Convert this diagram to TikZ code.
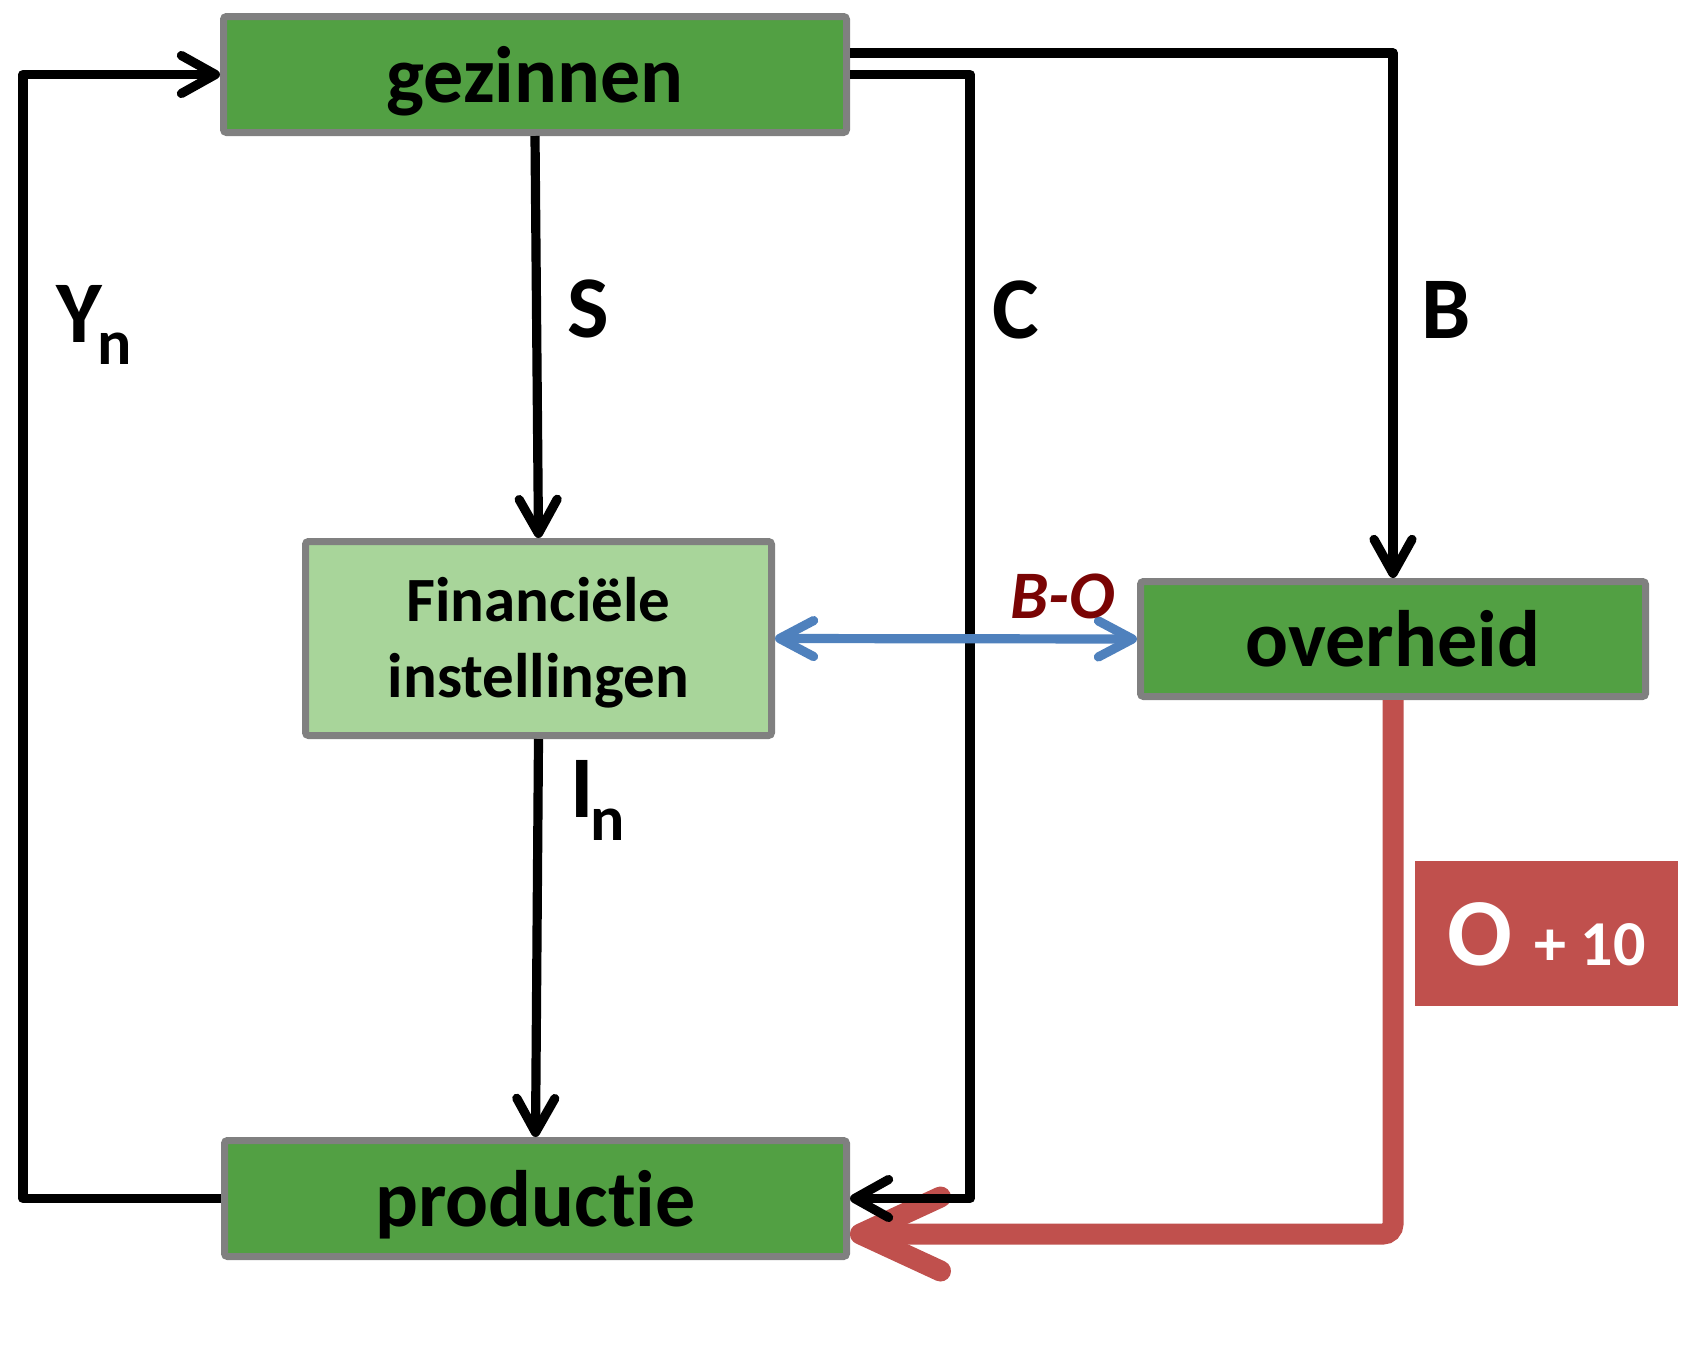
\documentclass[tikz,border=0pt]{standalone}
\usepackage{fontspec}
\setmainfont{Carlito}[RawFeature={-liga;-clig;-calt;-dlig}]
\usetikzlibrary{arrows.meta}
\definecolor{boxgreen}{RGB}{82,160,67}
\definecolor{lightgreen}{RGB}{168,213,154}
\definecolor{bordergray}{RGB}{128,128,128}
\definecolor{flowred}{RGB}{192,80,77}
\definecolor{flowblue}{RGB}{79,129,189}
\definecolor{darkred}{RGB}{122,4,4}
\begin{document}
\begin{tikzpicture}[x=0.5pt,y=-0.5pt,
  bigbox/.style={draw=bordergray, line width=3.5pt, fill=boxgreen, rounded corners=1.5pt,
    inner sep=0pt, font=\fontsize{40}{48}\selectfont\bfseries, text height=27.5pt, text depth=0pt},
  finbox/.style={draw=bordergray, line width=3.5pt, fill=lightgreen, rounded corners=1.5pt,
    inner sep=0pt, align=center, font=\fontsize{31.5}{38}\selectfont\bfseries,
    text height=58.5pt, text depth=0pt},
  flow/.style={line width=4.6pt, line join=round, -{Straight Barb[length=17pt,width=19pt,round]}},
  bluearrow/.style={draw=flowblue, line width=4.6pt, line cap=round,
    {Straight Barb[length=17pt,width=18pt,round]}-{Straight Barb[length=17pt,width=18pt,round]}},
  redarrow/.style={draw=flowred, line width=10.5pt, rounded corners=5pt,
    -{Straight Barb[length=40pt,width=37pt,round]}},
  lbl/.style={anchor=base west, inner sep=0pt, font=\fontsize{44}{50}\selectfont\bfseries}
]
\useasboundingbox (0,0) rectangle (1681,1350);
\fill[white] (0,0) rectangle (1681,1350);

% boxes
\node[bigbox, minimum width=311.5pt, minimum height=58pt] (gez) at (535,74.5) {gezinnen};
\node[bigbox, minimum width=311pt, minimum height=58pt] (prod) at (535.5,1198.5) {productie};
\node[bigbox, minimum width=252.5pt, minimum height=57.5pt] (ovh) at (1393,639) {overheid};
\node[finbox, minimum width=233pt, minimum height=97pt] (fin) at (538.5,638.5) {Financiële\\instellingen};
\node[fill=flowred, minimum width=131.5pt, minimum height=72.5pt, inner sep=0pt, text=white,
  font=\fontsize{48}{52}\selectfont\bfseries, text height=31.5pt, text depth=0pt]
  (o10) at (1546.5,933.5) {O {\fontsize{32}{36}\selectfont + 10}};

% helper coordinate
\coordinate (cC) at (970,600);

% connectors
\draw[redarrow] (ovh.south) |- ([yshift=-17.75pt]prod.east);
\draw[flow] (gez.south) -- (fin.north);
\draw[flow] (fin.south) -- (prod.north);
\draw[flow] (prod.west) -- ++(-198,0) |- (gez.west);
\draw[flow] (gez.east) -| (cC) |- (prod.east);
\draw[flow] ([yshift=10.75pt]gez.east) -| (ovh.north);
\draw[bluearrow] (fin.east) -- (ovh.west);

% labels
\node[lbl] (lY) at (56,342) {Y\kern-2.5pt\raisebox{-11pt}{\fontsize{32}{36}\selectfont n}};
\node[lbl] (lS) at (567,337) {S};
\node[lbl] (lC) at (992,338) {C};
\node[lbl] (lB) at (1421,338) {B};
\node[lbl] (lI) at (570,817) {I\kern-1.5pt\raisebox{-11.5pt}{\fontsize{32}{36}\selectfont n}};
\node[anchor=base west, inner sep=0pt, font=\fontsize{34}{40}\selectfont\bfseries\itshape,
  text=darkred] (lBO) at (1010,618) {B-O};
\end{tikzpicture}
\end{document}
